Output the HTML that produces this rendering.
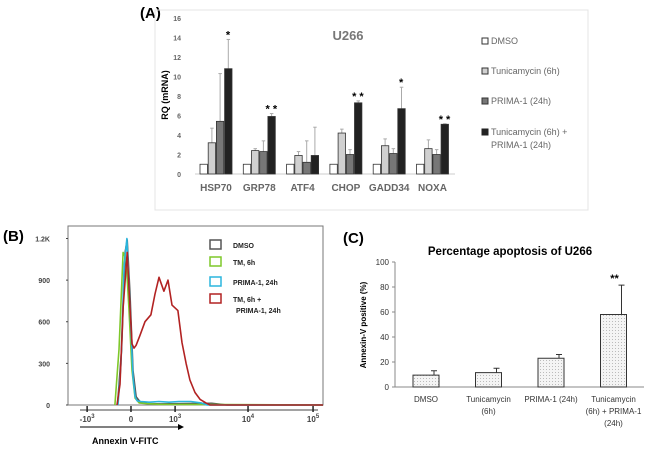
<!DOCTYPE html>
<html><head><meta charset="utf-8"><style>
body{margin:0;background:#fff;font-family:"Liberation Sans",sans-serif}
svg{display:block}
</style></head><body>
<svg width="650" height="450" viewBox="0 0 650 450">
<defs>
<pattern id="dots" width="3" height="3" patternUnits="userSpaceOnUse"><rect width="3" height="3" fill="#f4f4f4"/><rect x="0" y="0" width="1" height="1" fill="#bbb"/></pattern>
</defs>
<g id="panelA">
<text x="140" y="18" font-size="15" font-weight="bold">(A)</text>
<rect x="155" y="10" width="433" height="200" fill="none" stroke="#e4e4e4"/>
<text x="348" y="40" font-size="13" fill="#777" text-anchor="middle" font-weight="bold">U266</text>
<text transform="translate(168,95) rotate(-90)" font-size="9" font-weight="bold" text-anchor="middle">RQ (mRNA)</text>
<g id="aAxes"></g><g id="aBars"></g>
<g font-size="9" fill="#666">
<rect x="482" y="38" width="6" height="6" fill="#fff" stroke="#333"/><text x="491" y="44">DMSO</text>
<rect x="482" y="68" width="6" height="6" fill="#d0d0d0" stroke="#333"/><text x="491" y="74">Tunicamycin (6h)</text>
<rect x="482" y="98" width="6" height="6" fill="#777" stroke="#333"/><text x="491" y="104">PRIMA-1 (24h)</text>
<rect x="482" y="129" width="6" height="6" fill="#222" stroke="#222"/><text x="491" y="135">Tunicamycin (6h) +</text><text x="491" y="148">PRIMA-1 (24h)</text>
</g>
</g>
<g id="panelB">
<text x="3" y="241" font-size="15" font-weight="bold">(B)</text>
<rect x="68" y="226" width="255" height="179" fill="none" stroke="#777"/>
<g id="bAxes"></g><g id="bLines"></g>
<line x1="80" y1="427" x2="178" y2="427" stroke="#000"/>
<polygon points="178,424 184,427 178,430" fill="#000"/>
<text x="92" y="444" font-size="9" font-weight="bold">Annexin V-FITC</text>
<g font-size="7" font-weight="bold" fill="#222">
<rect x="210" y="240" width="11" height="9" fill="none" stroke="#555" stroke-width="1.5"/><text x="233" y="248">DMSO</text>
<rect x="210" y="257" width="11" height="9" fill="none" stroke="#7ec82a" stroke-width="1.5"/><text x="233" y="265">TM, 6h</text>
<rect x="210" y="277" width="11" height="9" fill="none" stroke="#2bb5dd" stroke-width="1.5"/><text x="233" y="285">PRIMA-1, 24h</text>
<rect x="210" y="294" width="11" height="9" fill="none" stroke="#b22222" stroke-width="1.5"/><text x="233" y="302">TM, 6h +</text><text x="236" y="313">PRIMA-1, 24h</text>
</g>
</g>
<g id="panelC">
<text x="343" y="243" font-size="15" font-weight="bold">(C)</text>
<text x="510" y="255" font-size="11.5" font-weight="bold" text-anchor="middle">Percentage apoptosis of U266</text>
<text transform="translate(366,325) rotate(-90)" font-size="8" font-weight="bold" text-anchor="middle">Annexin-V positive (%)</text>
<g id="cAxes"></g><g id="cBars"></g>
</g>
</svg>
<script>
const NS="http://www.w3.org/2000/svg";
function mk(p,tag,at){const e=document.createElementNS(NS,tag);for(const k in at)e.setAttribute(k,at[k]);p.appendChild(e);return e;}
// ---- Panel A data
const aGenes=["HSP70","GRP78","ATF4","CHOP","GADD34","NOXA"];
const aDMSO=[1,1,1,1,1,1];
const aTun=[3.2,2.4,1.9,4.2,2.9,2.6];
const aPrima=[5.4,2.3,1.2,2.0,2.1,2.0];
const aCombo=[10.8,5.9,1.9,7.3,6.7,5.1];
const aTunErr=[1.5,0.2,0.4,0.4,0.7,0.9];
const aPrimaErr=[4.9,1.1,2.2,0.5,0.5,0.5];
const aComboErr=[3.0,0.3,2.9,0.2,2.2,0.05];
const aStars=["*","**","","**","*","**"];
const aTicks=[0,2,4,6,8,10,12,14,16];
const ay=v=>174-v*9.75, ax=i=>216+i*43.3;
const gA=document.getElementById('aAxes'), bA=document.getElementById('aBars');
aTicks.forEach(t=>{const e=mk(gA,'text',{x:181,y:ay(t)+3,'font-size':7,'font-weight':'bold',fill:'#666','text-anchor':'end'});e.textContent=t;

});
let l=mk(gA,'line',{x1:195,y1:ay(0),x2:455,y2:ay(0),stroke:'#ccc'});


const series=[[aDMSO,null,'#fff'],[aTun,aTunErr,'#d0d0d0'],[aPrima,aPrimaErr,'#777'],[aCombo,aComboErr,'#222']];
aGenes.forEach((g,i)=>{
 const t=mk(gA,'text',{x:ax(i),y:191,'font-size':10,'font-weight':'bold',fill:'#666','text-anchor':'middle'});t.textContent=g;
 
 
 series.forEach((s,j)=>{
  const x=ax(i)-16+j*8.2, v=s[0][i];
  if(s[1]){const e=mk(bA,'line',{x1:x+3.7,x2:x+3.7,y1:ay(v),y2:ay(v+s[1][i]),stroke:'#aaa'});
   
   
   mk(bA,'line',{x1:x+2,x2:x+5.5,y1:ay(v+s[1][i]),y2:ay(v+s[1][i]),stroke:'#aaa'});}
  const r=mk(bA,'rect',{x:x,y:ay(v),width:7.4,height:ay(0)-ay(v),fill:s[2],stroke:'#333','stroke-width':0.8});
  
  
 });
 if(aStars[i]){const v=aCombo[i]+aComboErr[i];const s=mk(bA,'text',{x:ax(i)+12,y:ay(v)-1,'font-size':11,'font-weight':'bold','text-anchor':'middle'});s.textContent=aStars[i].split('').join(' ');
 
 }
});
// ---- Panel B data (channel 0..1000 across plot width)
const bTicks=[0,300,600,900,1200];
const bTickLabels=["0","300","600","900","1.2K"];
const bChannels=[75,247,420,706,961];
const bChanBase=["-10","0","10","10","10"];
const bChanExp=["3","","3","4","5"];
const redX=[192,204,216,232,243,251,259,267,282,302,325,341,357,376,392,408,431,447,463,478,498,518,541,557,1000];
const redY=[0,150,700,1100,700,440,410,430,500,600,650,800,920,820,900,720,680,450,300,180,90,40,15,0,0];
const blueX=[196,208,220,231,243,255,263,271,286,318,357,396,435,482,522,545,1000];
const blueY=[0,300,1000,1200,700,200,60,30,25,20,25,20,25,25,15,0,0];
const greenX=[184,200,216,228,239,251,263,279,306,357,1000];
const greenY=[0,400,1100,1050,700,250,50,15,10,5,0];
const greyX=[194,210,224,232,243,255,267,284,314,364,474,564,624,1000];
const greyY=[0,400,1100,1190,800,250,60,20,10,8,10,12,0,0];
const by=v=>405-v*(179/1290), bx=c=>68+c*0.255;
const gB=document.getElementById('bAxes'), lB=document.getElementById('bLines');
bTicks.forEach((t,i)=>{const e=mk(gB,'text',{x:50,y:by(t)+3,'font-size':7,'font-weight':'bold',fill:'#444','text-anchor':'end'});e.textContent=bTickLabels[i];


mk(gB,'line',{x1:66,x2:68,y1:by(t),y2:by(t),stroke:'#444'});});
mk(gB,'line',{x1:80,x2:318,y1:410,y2:410,stroke:'#444'});
bChannels.forEach((c,i)=>{mk(gB,'line',{x1:bx(c),x2:bx(c),y1:406,y2:412,stroke:'#222','stroke-width':1.5});
const e=mk(gB,'text',{x:bx(c),y:422,'font-size':8,'font-weight':'bold',fill:'#444','text-anchor':'middle'});
const t1=mk(e,'tspan',{});t1.textContent=bChanBase[i];
if(bChanExp[i]){const t2=mk(e,'tspan',{dy:-4,'font-size':6});t2.textContent=bChanExp[i];}

});
[[greyX,greyY,'#555','dmso'],[greenX,greenY,'#7ec82a','tm'],[blueX,blueY,'#2bb5dd','prima'],[redX,redY,'#b22222','combo']].forEach(s=>{
 const d=s[0].map((x,i)=>(i?'L':'M')+bx(x).toFixed(1)+','+by(s[1][i]).toFixed(1)).join('');
 const p=mk(lB,'path',{d:d,fill:'none',stroke:s[2],'stroke-width':1.6,'stroke-linejoin':'round'});
 
 
});
// ---- Panel C data
const cCats=[["DMSO"],["Tunicamycin","(6h)"],["PRIMA-1 (24h)"],["Tunicamycin","(6h) + PRIMA-1","(24h)"]];
const cVals=[9.5,11.5,23,58];
const cErr=[3.5,3.5,3,23.5];
const cStars=["","","","**"];
const cTicks=[0,20,40,60,80,100];
const cy=v=>387-v*1.25, cx=i=>426+i*62.5;
const gC=document.getElementById('cAxes'), bC=document.getElementById('cBars');
mk(gC,'line',{x1:395,x2:395,y1:cy(100),y2:cy(0),stroke:'#888'});
mk(gC,'line',{x1:395,x2:644,y1:cy(0),y2:cy(0),stroke:'#888'});
cTicks.forEach(t=>{mk(gC,'line',{x1:392,x2:395,y1:cy(t),y2:cy(t),stroke:'#888'});
const e=mk(gC,'text',{x:389,y:cy(t)+3,'font-size':8,fill:'#333','text-anchor':'end'});e.textContent=t;

});
cCats.forEach((c,i)=>{
 c.forEach((ln,k)=>{const e=mk(gC,'text',{x:cx(i),y:402+k*12,'font-size':8,fill:'#333','text-anchor':'middle'});e.textContent=ln;
 
 });
 const v=cVals[i];
 mk(bC,'line',{x1:cx(i)+8,x2:cx(i)+8,y1:cy(v),y2:cy(v+cErr[i]),stroke:'#333'});
 mk(bC,'line',{x1:cx(i)+5,x2:cx(i)+11,y1:cy(v+cErr[i]),y2:cy(v+cErr[i]),stroke:'#333'});
 const r=mk(bC,'rect',{x:cx(i)-13,y:cy(v),width:26,height:cy(0)-cy(v),fill:'url(#dots)',stroke:'#333','stroke-width':1});
 
 
 if(cStars[i]){const s=mk(bC,'text',{x:cx(i)+1,y:cy(v+cErr[i])-3,'font-size':11,'font-weight':'bold','text-anchor':'middle'});s.textContent=cStars[i];
 
 }
});
</script>
</body></html>
